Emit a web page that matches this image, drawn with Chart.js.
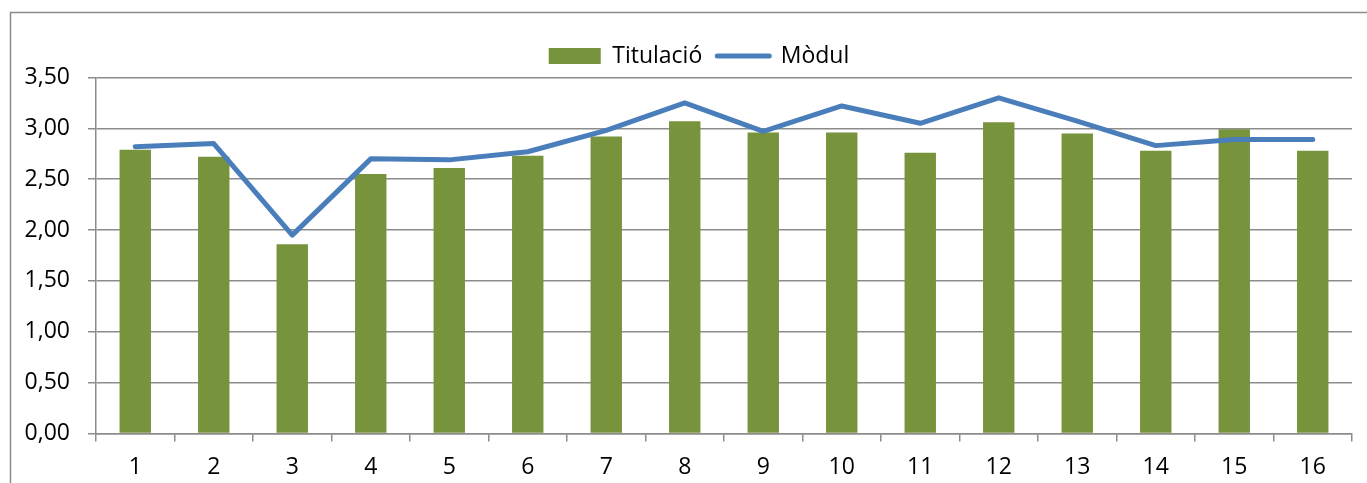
<!DOCTYPE html>
<html>
<head>
<meta charset="utf-8">
<script src="https://cdn.jsdelivr.net/npm/chart.js@4.4.0/dist/chart.umd.min.js"></script>
<style>
  body { margin: 0; background: #fff; }
  canvas { display: block; }
</style>
</head>
<body>
<canvas id="chart" width="1367" height="483"></canvas>
<script>
// Data
const categories = ['1', '2', '3', '4', '5', '6', '7', '8', '9', '10', '11', '12', '13', '14', '15', '16'];
const titulacio = [2.79, 2.72, 1.86, 2.55, 2.61, 2.73, 2.92, 3.07, 2.96, 2.96, 2.76, 3.06, 2.95, 2.78, 2.99, 2.78];
const modul = [2.82, 2.85, 1.95, 2.70, 2.69, 2.77, 2.98, 3.25, 2.97, 3.22, 3.05, 3.30, 3.07, 2.83, 2.89, 2.89];
const yTicks = [0, 0.5, 1, 1.5, 2, 2.5, 3, 3.5];

const green = '#77933c';
const blue = '#4a7ebb';
const gridGray = '#8c8c8c';
const fontFamily = '"Open Sans", "Liberation Sans", sans-serif';

// Outer chart frame like the spreadsheet chart area
const framePlugin = {
    id: 'frame',
    afterLayout(chart) {
        // legend sits a bit right of the canvas centre in the original
        chart.legend.left += 18;
        chart.legend.right += 18;
    },
    beforeDraw(chart) {
        const ctx = chart.ctx;
        ctx.save();
        ctx.strokeStyle = gridGray;
        ctx.lineWidth = 1.5;
        ctx.strokeRect(10.5, 12.5, 1400, 500);
        ctx.restore();
    }
};

const ctx = document.getElementById('chart').getContext('2d');
new Chart(ctx, {
    type: 'bar',
    data: {
        labels: categories,
        datasets: [{
            type: 'bar',
            label: 'Titulació',
            data: titulacio,
            backgroundColor: green,
            borderWidth: 0,
            categoryPercentage: 1,
            barPercentage: 0.4,
            order: 1
        }, {
            type: 'line',
            label: 'Mòdul',
            data: modul,
            borderColor: blue,
            backgroundColor: blue,
            borderWidth: 5,
            borderCapStyle: 'round',
            borderJoinStyle: 'round',
            pointRadius: 0,
            tension: 0,
            fill: false,
            order: 0
        }]
    },
    options: {
        responsive: false,
        animation: false,
        layout: {
            padding: { top: 29.5, left: 10, right: 15, bottom: 0 }
        },
        plugins: {
            tooltip: { enabled: false },
            legend: {
                display: true,
                position: 'top',
                labels: {
                    usePointStyle: true,
                    pointStyleWidth: 52,
                    boxHeight: 16,
                    padding: 15,
                    color: '#000',
                    font: { family: fontFamily, size: 23 },
                    generateLabels: function() {
                        return [{
                            text: 'Titulació',
                            fillStyle: green,
                            strokeStyle: green,
                            lineWidth: 0,
                            pointStyle: 'rect',
                            datasetIndex: 0
                        }, {
                            text: 'Mòdul',
                            fillStyle: blue,
                            strokeStyle: blue,
                            lineWidth: 5,
                            lineCap: 'round',
                            pointStyle: 'line',
                            datasetIndex: 1
                        }];
                    }
                }
            }
        },
        scales: {
            x: {
                offset: true,
                grid: {
                    offset: true,
                    drawOnChartArea: false,
                    drawTicks: true,
                    tickLength: 8,
                    color: gridGray,
                    lineWidth: 1.5
                },
                border: { color: gridGray, width: 1.5 },
                ticks: {
                    color: '#000',
                    padding: 12,
                    font: { family: fontFamily, size: 23 }
                },
                afterFit: function(scale) { scale.height = 49.6; }
            },
            y: {
                min: 0,
                max: 3.5,
                afterBuildTicks: function(scale) {
                    scale.ticks = yTicks.map(v => ({ value: v }));
                },
                grid: {
                    color: gridGray,
                    lineWidth: 1.5,
                    drawTicks: true,
                    tickLength: 8
                },
                border: { color: gridGray, width: 1.5 },
                ticks: {
                    color: '#000',
                    padding: 18,
                    font: { family: fontFamily, size: 23 },
                    callback: function(v) { return v.toFixed(2).replace('.', ','); }
                },
                afterFit: function(scale) { scale.width = 86; }
            }
        }
    },
    plugins: [framePlugin]
});
</script>
</body>
</html>
